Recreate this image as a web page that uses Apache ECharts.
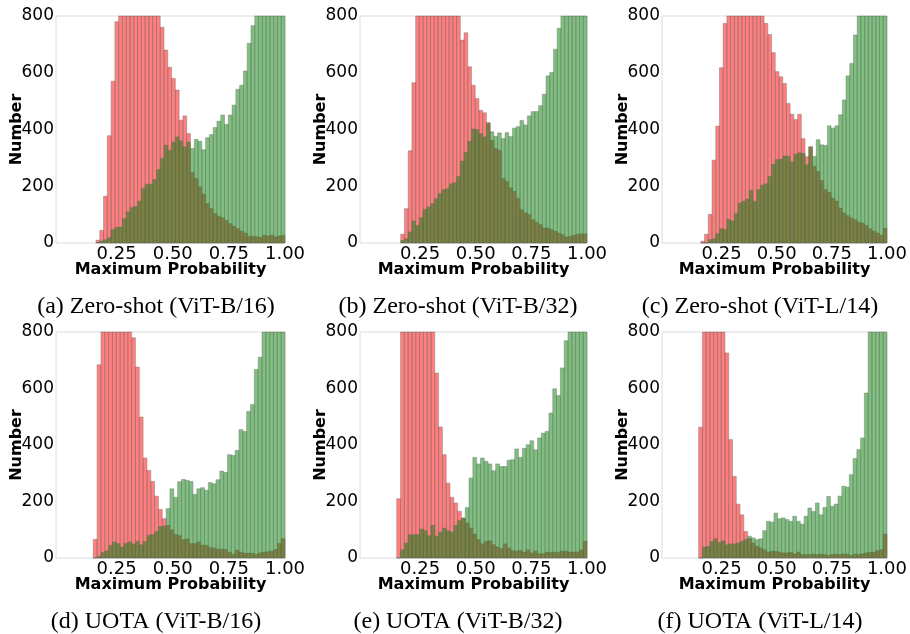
<!DOCTYPE html>
<html>
<head>
<meta charset="utf-8">
<script src="https://cdn.jsdelivr.net/npm/echarts@6/dist/echarts.min.js"></script>
<style>
  html, body { margin: 0; padding: 0; background: #fff; }
  #chart { width: 910px; height: 634px; }
</style>
</head>
<body>
<div id="chart"></div>
<script>
// Histograms of maximum softmax probability: red = one group, green = the other.
// Each panel uses 50 equal bins from its start value up to 1.0.
const BIN_COUNT = 50;
const binStart = [0.158, 0.163, 0.156, 0.146, 0.145, 0.146];

const xTicks = [0.25, 0.50, 0.75, 1.00];
const yTicks = [0, 200, 400, 600, 800];

const captions = [
  '(a) Zero-shot (ViT-B/16)', '(b) Zero-shot (ViT-B/32)', '(c) Zero-shot (ViT-L/14)',
  '(d) UOTA (ViT-B/16)', '(e) UOTA (ViT-B/32)', '(f) UOTA (ViT-L/14)'
];

// (a) Zero-shot ViT-B/16
const zsB16Red = [10, 45, 165, 378, 570, 780, 860, 940, 1000, 1040, 1050, 1030, 1000, 960, 920, 870, 820,
  760, 680, 619, 580, 539, 433, 448, 386, 248, 227, 198, 172, 139, 122, 104, 94, 89, 80, 68, 59, 51, 42, 35,
  24, 24, 22, 20, 27, 25, 28, 22, 25, 27];
const zsB16Green = [2, 7, 12, 19, 48, 56, 56, 86, 110, 125, 129, 148, 192, 207, 208, 224, 259, 298, 345, 327,
  356, 374, 360, 339, 356, 333, 365, 359, 329, 371, 382, 407, 429, 451, 418, 451, 486, 542, 556, 606, 704, 766,
  840, 900, 960, 1040, 1120, 1200, 1300, 1400];

// (b) Zero-shot ViT-B/32
const zsB32Red = [31, 121, 325, 565, 860, 920, 980, 1020, 1040, 1030, 1000, 960, 920, 880, 850, 820,
  715, 741, 621, 556, 509, 468, 459, 425, 362, 333, 327, 227, 217, 194, 182, 158, 117, 106, 100, 82, 73, 65,
  53, 53, 47, 41, 35, 29, 21, 23, 27, 30, 32, 32];
const zsB32Green = [9, 15, 39, 78, 62, 89, 119, 127, 139, 156, 174, 188, 192, 209, 213, 235, 289, 319, 359,
  402, 400, 386, 374, 421, 392, 376, 388, 368, 389, 375, 405, 410, 432, 416, 448, 463, 463, 484, 524, 589, 601,
  683, 757, 840, 900, 980, 1060, 1150, 1250, 1350];

// (c) Zero-shot ViT-L/14
const zsL14Red = [6, 31, 101, 292, 412, 618, 774, 840, 880, 920, 940, 930, 910, 890, 860, 840, 810,
  774, 735, 671, 604, 586, 562, 492, 454, 435, 454, 368, 304, 340, 270, 252, 220, 188, 178, 158, 147, 123,
  106, 96, 88, 82, 73, 70, 62, 50, 42, 35, 28, 52];
const zsL14Green = [0, 1, 12, 15, 33, 51, 48, 84, 78, 104, 141, 148, 155, 186, 147, 188, 204, 209, 235, 278,
  295, 295, 307, 306, 286, 313, 318, 316, 276, 337, 305, 364, 346, 344, 413, 405, 413, 452, 504, 589, 633, 733,
  830, 880, 950, 1020, 1100, 1180, 1260, 1350];

// (d) UOTA ViT-B/16
const uotaB16Red = [66, 684, 1500, 2200, 2600, 2700, 2500, 2100, 1600, 1100, 780, 676, 499, 354, 310, 271,
  219, 172, 139, 116, 100, 83, 79, 65, 68, 51, 51, 57, 45, 45, 37, 35, 31, 31, 30, 21, 13, 28, 21, 17, 17, 17,
  12, 18, 21, 22, 24, 30, 51, 68];
const uotaB16Green = [0, 6, 19, 25, 45, 57, 51, 39, 52, 57, 50, 59, 47, 59, 80, 83, 94, 112, 113, 175, 245,
  215, 270, 278, 275, 271, 225, 245, 249, 240, 267, 263, 277, 308, 303, 366, 363, 381, 455, 448, 519, 543, 667,
  711, 850, 950, 1100, 1300, 1600, 2000];

// (e) UOTA ViT-B/32
const uotaB32Red = [210, 1400, 2200, 2700, 2900, 2800, 2400, 1900, 1400, 950, 655, 464, 366, 265, 215, 195,
  165, 140, 124, 106, 85, 65, 50, 59, 61, 47, 39, 33, 50, 35, 26, 24, 27, 21, 29, 18, 24, 15, 15, 21, 19, 21,
  20, 24, 24, 21, 21, 21, 29, 59];
const uotaB32Green = [0, 29, 53, 83, 83, 83, 103, 97, 79, 116, 77, 92, 106, 97, 92, 116, 133, 142, 179, 283,
  356, 333, 354, 342, 333, 309, 333, 324, 324, 346, 348, 386, 356, 388, 401, 415, 383, 425, 442, 448, 513, 599,
  575, 673, 769, 880, 1000, 1200, 1500, 1900];

// (f) UOTA ViT-L/14
const uotaL14Red = [463, 1800, 3000, 3500, 3300, 2600, 1500, 726, 419, 289, 191, 153, 94, 68, 53, 41, 35, 29,
  21, 24, 24, 21, 18, 18, 20, 14, 21, 12, 12, 12, 14, 12, 14, 12, 9, 12, 14, 12, 14, 14, 9, 14, 12, 15, 18,
  20, 21, 26, 29, 85];
const uotaL14Green = [0, 39, 41, 59, 68, 55, 61, 47, 50, 50, 53, 59, 66, 77, 71, 65, 68, 97, 130, 127, 159,
  139, 142, 136, 130, 148, 130, 120, 148, 177, 165, 195, 153, 179, 218, 183, 191, 219, 254, 251, 295, 352, 384,
  425, 584, 900, 1200, 1600, 2200, 3000];

const panels = [
  [zsB16Red, zsB16Green], [zsB32Red, zsB32Green], [zsL14Red, zsL14Green],
  [uotaB16Red, uotaB16Green], [uotaB32Red, uotaB32Green], [uotaL14Red, uotaL14Green]
];

// Layout of the 2x3 grid of plots (pixels)
const gridBoxes = [
  { left: 56, top: 16, width: 229, height: 227 },
  { left: 360, top: 16, width: 227, height: 227 },
  { left: 662, top: 16, width: 227, height: 227 },
  { left: 56, top: 332, width: 229, height: 226 },
  { left: 360, top: 332, width: 227, height: 226 },
  { left: 662, top: 332, width: 227, height: 226 }
];
const captionPos = [[156, 307], [458, 307], [760, 307], [156, 622], [458, 622], [760, 622]];

const SANS = 'DejaVu Sans';
const SERIF = 'Liberation Serif';
const RED_FILL = 'rgba(255,0,0,0.5)';
const GREEN_FILL = 'rgba(0,128,0,0.5)';
const EDGE = 'rgba(110,110,110,0.5)';

function toBins(counts, start) {
  const w = (1 - start) / BIN_COUNT;
  return counts.map((c, i) => [start + i * w, start + (i + 1) * w, c]);
}

function makeRenderer(fill) {
  return function (params, api) {
    const x0 = api.value(0), x1 = api.value(1), y = api.value(2);
    const pTop = api.coord([x0, y]);
    const pBase = api.coord([x1, 0]);
    const cs = params.coordSys;
    const shape = echarts.graphic.clipRectByRect(
      { x: pTop[0], y: pTop[1], width: pBase[0] - pTop[0], height: pBase[1] - pTop[1] },
      { x: cs.x, y: cs.y, width: cs.width, height: cs.height }
    );
    if (!shape) return null;
    return { type: 'rect', shape: shape, style: { fill: fill, stroke: EDGE, lineWidth: 0.8 } };
  };
}

const grid = [], xAxis = [], yAxis = [], series = [], graphic = [];
panels.forEach((pair, k) => {
  grid.push(Object.assign({ show: true, borderColor: '#dcdcdc', borderWidth: 1, backgroundColor: 'transparent' }, gridBoxes[k]));
  xAxis.push({
    type: 'value', gridIndex: k, min: -0.02, max: 1.0,
    name: 'Maximum Probability', nameLocation: 'middle', nameGap: 19, nameMoveOverlap: false,
    nameTextStyle: { fontFamily: SANS, fontWeight: 'bold', fontSize: 16, color: '#000' },
    axisLine: { show: false }, axisTick: { show: false }, splitLine: { show: false },
    axisLabel: {
      customValues: xTicks, formatter: v => v.toFixed(2),
      fontFamily: SANS, fontSize: 18, color: '#000', margin: 2
    }
  });
  yAxis.push({
    type: 'value', gridIndex: k, min: 0, max: 800, interval: 200,
    name: 'Number', nameLocation: 'middle', nameGap: 31, nameMoveOverlap: false,
    nameTextStyle: { fontFamily: SANS, fontWeight: 'bold', fontSize: 16, color: '#000' },
    axisLine: { show: false }, axisTick: { show: false }, splitLine: { show: false },
    axisLabel: { customValues: yTicks, fontFamily: SANS, fontSize: 17, color: '#000', margin: 2 }
  });
  series.push({
    type: 'custom', xAxisIndex: k, yAxisIndex: k, renderItem: makeRenderer(RED_FILL),
    encode: { x: [0, 1], y: 2 }, data: toBins(pair[0], binStart[k]), silent: true
  });
  series.push({
    type: 'custom', xAxisIndex: k, yAxisIndex: k, renderItem: makeRenderer(GREEN_FILL),
    encode: { x: [0, 1], y: 2 }, data: toBins(pair[1], binStart[k]), silent: true
  });
  graphic.push({
    type: 'text', x: captionPos[k][0], y: captionPos[k][1],
    style: { text: captions[k], font: '24px "' + SERIF + '"', fill: '#000', align: 'center', verticalAlign: 'middle' }
  });
});

const chart = echarts.init(document.getElementById('chart'), null, { renderer: 'canvas' });
chart.setOption({
  animation: false,
  backgroundColor: '#fff',
  grid: grid, xAxis: xAxis, yAxis: yAxis, series: series, graphic: graphic
});
</script>
</body>
</html>
